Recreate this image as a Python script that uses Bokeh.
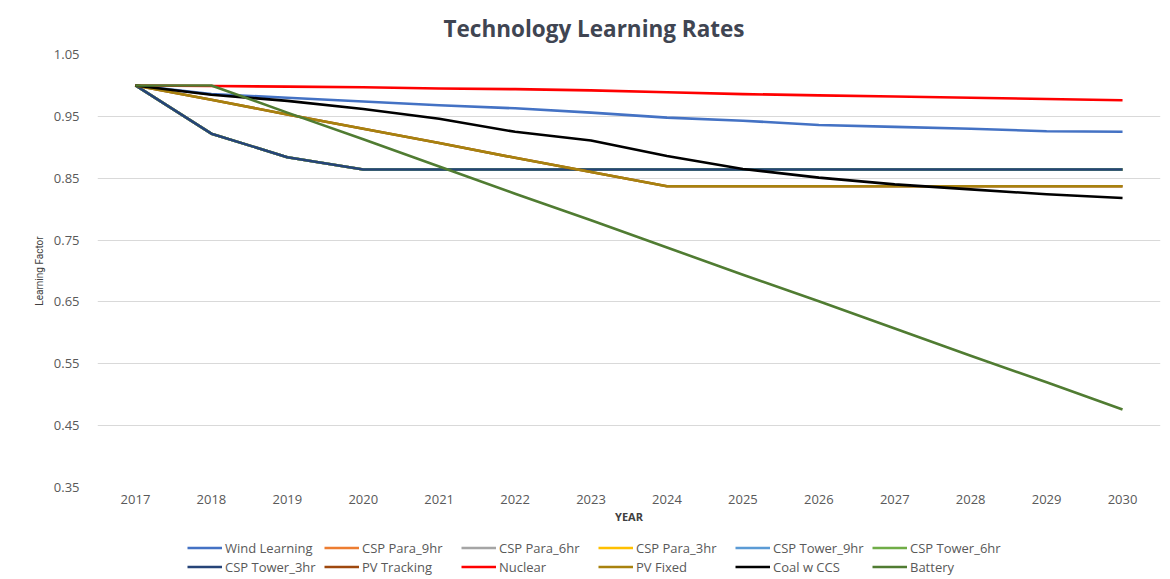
from bokeh.plotting import figure
from bokeh.layouts import column
from bokeh.models import (FixedTicker, NumeralTickFormatter, Legend, LegendItem,
                          Title, Range1d)
from bokeh.embed import file_html
from bokeh.resources import INLINE

years = [2017, 2018, 2019, 2020, 2021, 2022, 2023, 2024, 2025, 2026, 2027, 2028, 2029, 2030]

wind_learning = [1.0, 0.986, 0.980, 0.974, 0.968, 0.963, 0.956, 0.948, 0.943, 0.936, 0.933, 0.930, 0.926, 0.925]
csp_tower_3hr = [1.0, 0.922, 0.884, 0.864, 0.864, 0.864, 0.864, 0.864, 0.864, 0.864, 0.864, 0.864, 0.864, 0.864]
csp_para_9hr = list(csp_tower_3hr)
csp_para_6hr = list(csp_tower_3hr)
csp_para_3hr = list(csp_tower_3hr)
csp_tower_9hr = list(csp_tower_3hr)
csp_tower_6hr = list(csp_tower_3hr)
pv_fixed = [1.0, 0.977, 0.953, 0.930, 0.907, 0.883, 0.860, 0.837, 0.837, 0.837, 0.837, 0.837, 0.837, 0.837]
pv_tracking = list(pv_fixed)
nuclear = [1.0, 0.999, 0.998, 0.997, 0.995, 0.994, 0.992, 0.989, 0.986, 0.984, 0.982, 0.980, 0.978, 0.976]
coal_w_ccs = [1.0, 0.985, 0.975, 0.962, 0.946, 0.925, 0.911, 0.886, 0.865, 0.851, 0.840, 0.832, 0.824, 0.818]
battery = [1.0, 1.0, 0.956, 0.913, 0.869, 0.825, 0.782, 0.738, 0.694, 0.651, 0.607, 0.563, 0.520, 0.476]

series_names = ["Wind Learning", "CSP Para_9hr", "CSP Para_6hr", "CSP Para_3hr", "CSP Tower_9hr",
                "CSP Tower_6hr", "CSP Tower_3hr", "PV Tracking", "Nuclear", "PV Fixed",
                "Coal w CCS", "Battery"]
series_values = [wind_learning, csp_para_9hr, csp_para_6hr, csp_para_3hr, csp_tower_9hr,
                 csp_tower_6hr, csp_tower_3hr, pv_tracking, nuclear, pv_fixed, coal_w_ccs, battery]
series_colors = ["#4472C4", "#ED7D31", "#A5A5A5", "#FFC000", "#5B9BD5", "#70AD47",
                 "#264478", "#9E480E", "#FF0000", "#A8820E", "#000000", "#507C32"]

y_ticks = [0.35, 0.45, 0.55, 0.65, 0.75, 0.85, 0.95, 1.05]

FONT = "Open Sans"

p = figure(width=1170, height=537, output_backend="svg", toolbar_location=None,
           x_range=Range1d(2016.5, 2030.5), y_range=Range1d(0.35, 1.05),
           min_border_left=97, min_border_right=10, min_border_top=51, min_border_bottom=50)
p.outline_line_color = None
p.background_fill_color = "white"
p.border_fill_color = "white"

p.xgrid.grid_line_color = None
p.ygrid.grid_line_color = "#D9D9D9"
p.ygrid.grid_line_width = 1

p.xaxis.ticker = FixedTicker(ticks=years)
p.yaxis.ticker = FixedTicker(ticks=y_ticks)
p.yaxis.formatter = NumeralTickFormatter(format="0.00")
for ax in (p.xaxis, p.yaxis):
    ax.axis_line_color = None
    ax.major_tick_line_color = None
    ax.minor_tick_line_color = None
    ax.major_label_text_font = FONT
    ax.major_label_text_font_size = "13px"
    ax.major_label_text_color = "#595959"
p.yaxis.major_label_standoff = 12
p.xaxis.major_label_standoff = 1

p.xaxis.axis_label = "YEAR"
p.xaxis.axis_label_text_font = FONT
p.xaxis.axis_label_text_font_style = "bold"
p.xaxis.axis_label_text_font_size = "11px"
p.xaxis.axis_label_text_color = "#404040"
p.xaxis.axis_label_standoff = 2

p.yaxis.axis_label = "Learning Factor"
p.yaxis.axis_label_text_font = "Roboto"
p.yaxis.axis_label_text_font_style = "normal"
p.yaxis.axis_label_text_font_size = "10px"
p.yaxis.axis_label_text_color = "#404040"
p.yaxis.axis_label_standoff = 6

for vals, col in zip(series_values, series_colors):
    p.line(years, vals, line_color=col, line_width=2.6, line_join="round")

title = Title(text="Technology Learning Rates", align="left", offset=346, standoff=21,
              text_font=FONT, text_font_style="bold", text_font_size="22.5px",
              text_color="#404552")
p.add_layout(title, "above")

# legend strip below the chart (its own ranges keep the series out of view)
lf = figure(width=1170, height=42, output_backend="svg", toolbar_location=None,
            x_range=Range1d(0, 1), y_range=Range1d(0, 1),
            x_axis_type=None, y_axis_type=None, min_border=0)
lf.outline_line_color = None
lf.xgrid.visible = False
lf.ygrid.visible = False
items = []
for name, vals, col in zip(series_names, series_values, series_colors):
    r = lf.line(years, vals, line_color=col, line_width=2.6)
    items.append(LegendItem(label=name, renderers=[r]))
legend = Legend(items=items, orientation="horizontal", ncols=6,
                location=(90, 3), padding=0, margin=0, spacing=0,
                glyph_width=35, glyph_height=19, label_height=19, label_width=99,
                label_standoff=3, label_text_font=FONT, label_text_font_size="13px",
                label_text_color="#595959", border_line_color=None,
                background_fill_alpha=0)
lf.add_layout(legend, "center")

layout = column(p, lf, spacing=0)
open("out.html", "w").write(file_html(layout, INLINE))
